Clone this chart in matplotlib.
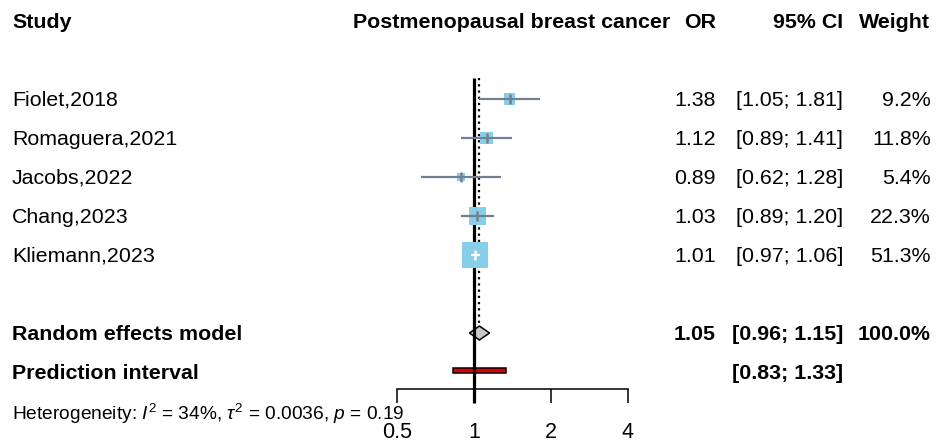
import matplotlib
matplotlib.use("Agg")
import matplotlib.pyplot as plt
from matplotlib import transforms
from matplotlib.patches import Polygon, Rectangle

plt.rcParams["font.family"] = ["Liberation Sans", "DejaVu Sans"]
plt.rcParams["mathtext.fontset"] = "custom"
plt.rcParams["mathtext.rm"] = "Liberation Sans"
plt.rcParams["mathtext.it"] = "Liberation Sans:italic"
plt.rcParams["mathtext.bf"] = "Liberation Sans:bold"

# Study-level estimates
studies = ["Fiolet,2018", "Romaguera,2021", "Jacobs,2022", "Chang,2023", "Kliemann,2023"]
or_vals = [1.38, 1.12, 0.89, 1.03, 1.01]
ci_lo = [1.05, 0.89, 0.62, 0.89, 0.97]
ci_hi = [1.81, 1.41, 1.28, 1.20, 1.06]
weights = [9.2, 11.8, 5.4, 22.3, 51.3]

# Pooled estimate and prediction interval
re_est, re_lo, re_hi, re_weight = 1.05, 0.96, 1.15, 100.0
pi_lo, pi_hi = 0.83, 1.33
i2, tau2, p_het = 34, 0.0036, 0.19

xticks = [0.5, 1, 2, 4]
xtick_labels = ["0.5", "1", "2", "4"]

W, H = 937, 446
fig = plt.figure(figsize=(W / 100, H / 100), dpi=100)

# Forest panel: x on log2 scale, y in row units (row 0 = header)
x0_px, x1_px = 397, 628
ax = fig.add_axes([x0_px / W, 0, (x1_px - x0_px) / W, 1])
ax.set_xscale("log", base=2)
ax.set_xlim(0.5, 4)
row_px = 39.0
top_px = 21.0
ax.set_ylim((H - top_px) / row_px, -top_px / row_px)
for s in ["top", "left", "right"]:
    ax.spines[s].set_visible(False)
ax.patch.set_visible(False)
ax.set_yticks([])

axis_row = (389 - top_px) / row_px
ax.spines["bottom"].set_position(("data", axis_row))
ax.spines["bottom"].set_bounds(0.5, 4)
ax.spines["bottom"].set_linewidth(1.1)
ax.set_xticks(xticks)
ax.set_xticklabels(xtick_labels)
ax.xaxis.set_minor_locator(matplotlib.ticker.NullLocator())
ax.tick_params(axis="x", direction="out", length=10, width=1.1, pad=14,
               labelsize=15.5, color="black")

study_rows = [2, 3, 4, 5, 6]
re_row = 8
pi_row = 9
het_row = 10.05
line_top = (78 - top_px) / row_px
diamond_top = (326 - top_px) / row_px

# Reference line at OR = 1 and dotted line at the pooled estimate
ax.plot([1, 1], [line_top, axis_row + 10 * 1.389 / row_px], color="black",
        lw=2.3, zorder=2, solid_capstyle="butt", clip_on=False)
ax.plot([re_est, re_est], [line_top, diamond_top], color="black",
        lw=1.6, ls=(0, (1.0, 1.8)), zorder=2)

# Study boxes (area proportional to weight) with confidence intervals
box_k = 350 / 51.3
for r, est, lo, hi, w in zip(study_rows, or_vals, ci_lo, ci_hi, weights):
    s = w * box_k
    ax.scatter([est], [r], marker="s", s=s, color="#87CEEB", edgecolors="none",
               zorder=3)
    side_pt = s ** 0.5
    # CI fully inside the box is drawn in white
    lo_disp = ax.transData.transform((lo, r))[0]
    hi_disp = ax.transData.transform((hi, r))[0]
    c_disp = ax.transData.transform((est, r))[0]
    half_px = side_pt * 100 / 72 / 2
    inside = (c_disp - lo_disp) < half_px and (hi_disp - c_disp) < half_px
    col = "white" if inside else "#708090"
    ax.plot([lo, hi], [r, r], color=col, lw=1.6, zorder=4,
            solid_capstyle="butt")
    ax.plot([est], [r], marker="|", ms=7, mew=1.8, color=col, zorder=4)

# Pooled diamond
dh = 7 / row_px
ax.add_patch(Polygon([(re_lo, re_row), (re_est, re_row - dh), (re_hi, re_row),
                      (re_est, re_row + dh)], closed=True,
                     facecolor="#C8C8C8", edgecolor="black", lw=1.1, zorder=1))

# Prediction interval bar
ph = 5 / row_px
ax.add_patch(Rectangle((pi_lo, pi_row - ph / 2 - 0.03), pi_hi - pi_lo, ph,
                       facecolor="#E00000", edgecolor="black", lw=1.1, zorder=1))

# Text columns: x in figure pixels, y in row units (nudged down by 1 px)
tr = transforms.blended_transform_factory(
    transforms.Affine2D().scale(1 / W, 1) + fig.transFigure,
    ax.transData + transforms.Affine2D().translate(0, -1.2))
fs = 15.4

def txt(x, y, s, ha="left", bold=False, size=fs):
    fig.text(x, y, s, transform=tr, ha=ha, va="center", fontsize=size,
             fontweight="bold" if bold else "normal")

txt(12, 0, "Study", bold=True)
txt(670, 0, "Postmenopausal breast cancer", ha="right", bold=True)
txt(716, 0, "OR", ha="right", bold=True)
txt(843, 0, "95% CI", ha="right", bold=True)
txt(930, 0, "Weight", ha="right", bold=True)

for r, name, est, lo, hi, w in zip(study_rows, studies, or_vals, ci_lo, ci_hi, weights):
    txt(12, r, name)
    txt(716, r, f"{est:.2f}", ha="right")
    txt(843, r, f"[{lo:.2f}; {hi:.2f}]", ha="right")
    txt(931, r, f"{w:.1f}%", ha="right")

txt(12, re_row, "Random effects model", bold=True)
txt(716, re_row, f"{re_est:.2f}", ha="right", bold=True)
txt(843, re_row, f"[{re_lo:.2f}; {re_hi:.2f}]", ha="right", bold=True)
txt(931, re_row, f"{re_weight:.1f}%", ha="right", bold=True)

txt(12, pi_row, "Prediction interval", bold=True)
txt(843, pi_row, f"[{pi_lo:.2f}; {pi_hi:.2f}]", ha="right", bold=True)

txt(12, het_row,
    rf"Heterogeneity: $I^2$ = {i2}%, $\tau^2$ = {tau2:.4f}, $p$ = {p_het:.2f}",
    size=13.8)

fig.savefig("out.png", dpi=100)
